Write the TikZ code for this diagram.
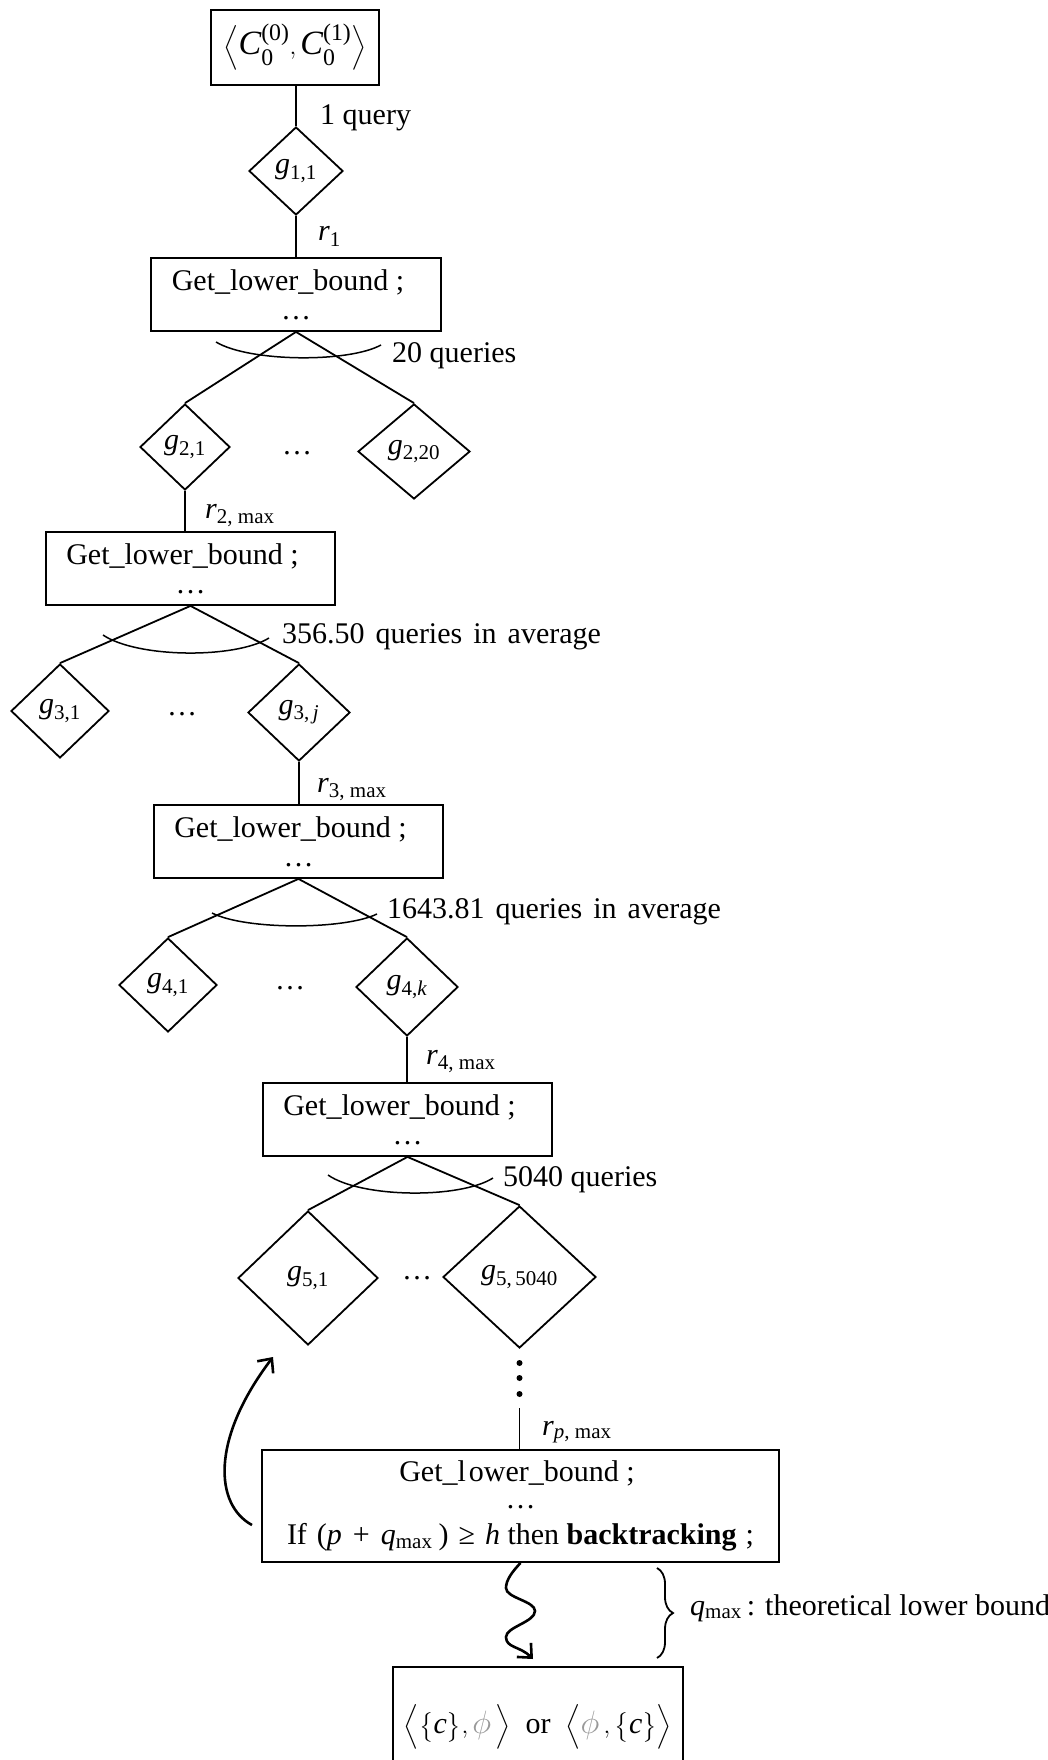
\documentclass[tikz,border=0pt]{standalone}
\usepackage{amsmath}
\usepackage{fontspec}
\setmainfont{Liberation Serif}
\usetikzlibrary{shapes.geometric,arrows.meta,decorations.pathreplacing}

\newcommand\sbs[1]{\textsubscript{#1}}
\newcommand\wgap{\hspace{11pt}}
\newcommand\glb{Get\_lower\_bound ;\hspace*{16pt}\\[-1pt]\ldots}
\newcommand\emptyphi{\textcolor{black!40}{\scalebox{1.3}{$\phi$}}}

\tikzset{
  every node/.style={font=\fontsize{30}{30}\selectfont},
  stroke/.style={line width=1.8pt},
  box/.style={stroke, draw, rectangle, inner sep=0pt, align=center},
  test/.style={stroke, draw, diamond, inner sep=0pt},
  lbl/.style={anchor=base west, inner sep=0pt},
  gap/.style={inner sep=0pt},
  span/.style={line width=1.5pt},
  bigarrow/.style={line width=2.6pt, -{Straight Barb[length=11pt,width=20pt,line width=2.6pt]}},
}

\begin{document}
\begin{tikzpicture}[x=1pt,y=-1pt]
\useasboundingbox (0,0) rectangle (1048,1760);

% procedure boxes
\node[box, minimum width=168pt, minimum height=75pt, font=\fontsize{34}{34}\selectfont] (b1) at (295,47.5)
  {$\left\langle \textit{C}^{\text{(0)}}_{\text{0}},\textit{C}^{\text{(1)}}_{\text{0}}\right\rangle$};
\node[box, minimum width=290pt, minimum height=73pt] (b2) at (296,294.5) {\glb};
\node[box, minimum width=289pt, minimum height=73pt] (b3) at (190.5,568.5) {\glb};
\node[box, minimum width=289pt, minimum height=73pt] (b4) at (298.5,841.5) {\glb};
\node[box, minimum width=289pt, minimum height=73pt] (b5) at (407.5,1119.5) {\glb};
\node[box, minimum width=517pt, minimum height=112pt] (b6) at (520.5,1506)
  {Get\_l\hspace{3pt}ower\_bound ;\hspace*{7pt}\\[-3pt]\ldots\\[6pt]
   If\hspace{10pt}(\textit{p}\hspace{11pt}+\hspace{11pt}\textit{q}\sbs{max}\hspace{6pt})\hspace{10pt}≥\hspace{10pt}\textit{h} then \textbf{backtracking}\hspace{9pt};};
\node[box, minimum width=290pt, minimum height=120pt] (b7) at (538,1727)
  {$\Bigl\langle \bigl\{\textit{c}\bigr\},\emptyphi\,\Bigr\rangle$\ \ or\ \ $\Bigl\langle \emptyphi\,,\bigl\{\textit{c}\bigr\}\Bigr\rangle$};

% query nodes
\node[test, minimum width=94pt, minimum height=88pt] (g11) at (296,171) {\textit{g}\sbs{1,1}};
\node[test, minimum width=90pt, minimum height=86pt] (g21) at (185,447) {\textit{g}\sbs{2,1}};
\node[test, minimum width=112pt, minimum height=95pt] (g220) at (414,451.5) {\textit{g}\sbs{2,20}};
\node[test, minimum width=98pt, minimum height=94pt] (g31) at (60,711) {\textit{g}\sbs{3,1}};
\node[test, minimum width=102pt, minimum height=97pt] (g3j) at (299,712.5) {\textit{g}\sbs{3,\,\textit{j}}};
\node[test, minimum width=98pt, minimum height=94pt] (g41) at (168,985) {\textit{g}\sbs{4,1}};
\node[test, minimum width=102pt, minimum height=98pt] (g4k) at (407,987) {\textit{g}\sbs{4,\textit{k}}};
\node[test, minimum width=140pt, minimum height=134pt] (g51) at (308,1278) {\textit{g}\sbs{5,1}};
\node[test, minimum width=153pt, minimum height=142pt] (g55040) at (519.5,1277) {\textit{g}\sbs{5,\,5040}};

% ellipses between sibling queries
\node[gap] (d2) at (297,453) {\ldots};
\node[gap] (d3) at (182,714) {\ldots};
\node[gap] (d4) at (290,988) {\ldots};
\node[gap] (d5) at (417,1278) {\ldots};

% tree edges
\draw[stroke] (g11.north |- b1.south) -- (g11.north);
\draw[stroke] (g11.south) -- (g11.south |- b2.north);
\draw[stroke] (g21.north) -- (b2.south) -- (g220.north);
\draw[stroke] (g21.south) -- (g21.south |- b3.north);
\draw[stroke] (g31.north) -- (b3.south) -- (g3j.north);
\draw[stroke] (g3j.south) -- (g3j.south |- b4.north);
\draw[stroke] (g41.north) -- (b4.south) -- (g4k.north);
\draw[stroke] (g4k.south) -- (g4k.south |- b5.north);
\draw[stroke] (g51.north) -- (b5.south) -- (g55040.north);

% vertical ellipsis and the last edge
\foreach \yy in {1363,1378,1394} \fill (519.5,\yy) circle (3pt);
\coordinate (vd) at (519.5,1408);
\draw[stroke] (vd) -- (vd |- b6.north);

% arcs spanning the branches
\draw[span] (216,342) .. controls (249,362) and (348,363) .. (381,345);
\draw[span] (103,635) .. controls (137,658) and (235,659) .. (269,638);
\draw[span] (212,913) .. controls (245,930) and (344,930) .. (377,914);
\draw[span] (328,1175) .. controls (361,1198) and (460,1199) .. (493,1178);

% edge labels
\node[lbl] (q1) at (320,125) {1 query};
\node[lbl] (r1) at (318,241) {\textit{r}\sbs{1}};
\node[lbl] (q2) at (392,362) {20 queries};
\node[lbl] (r2) at (205,518) {\textit{r}\sbs{2, max}};
\node[lbl] (q3) at (282,643) {356.50\wgap queries\wgap in\wgap average};
\node[lbl] (r3) at (317,792) {\textit{r}\sbs{3, max}};
\node[lbl] (q4) at (387,918) {1643.81\wgap queries\wgap in\wgap average};
\node[lbl] (r4) at (426,1064) {\textit{r}\sbs{4, max}};
\node[lbl] (q5) at (503,1186) {5040 queries};
\node[lbl] (rp) at (542,1435) {\textit{r}\sbs{\textit{p}, max}};

% backtracking
\coordinate (bk0) at (252,1525);
\coordinate (bk1) at (273,1357);
\draw[bigarrow] (bk0) .. controls (215,1505) and (210,1440) .. (bk1);

% final descent
\coordinate (sn) at (533,1659);
\draw[bigarrow] (b6.south) .. controls (512,1572) and (506,1580) .. (506,1588)
  .. controls (506,1598) and (535,1601) .. (535,1611)
  .. controls (535,1622) and (506,1627) .. (506,1637)
  .. controls (506,1648) and (520,1646) .. (sn);

% lower bound brace
\draw[stroke, decorate, decoration={brace, amplitude=16pt}] (657,1568) -- (657,1658);
\node[lbl] (qm) at (690,1615) {\textit{q}\sbs{max}\,: theoretical lower bound};

\end{tikzpicture}
\end{document}
